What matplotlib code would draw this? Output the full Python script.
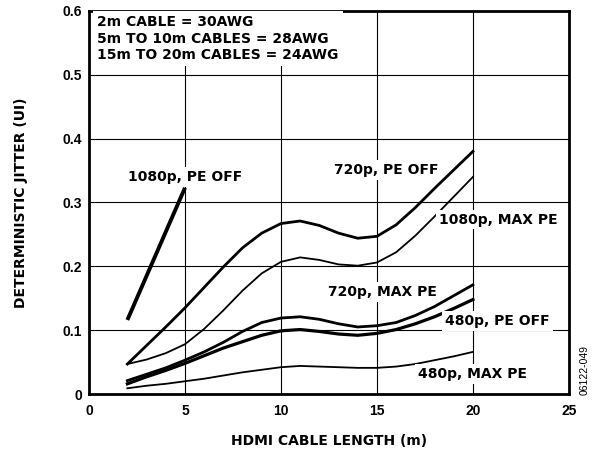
import matplotlib
matplotlib.use("Agg")
import matplotlib.pyplot as plt

plt.rcParams['font.family'] = ['DejaVu Sans']

# cable length (m)
length = [2, 3, 4, 5, 6, 7, 8, 9, 10, 11, 12, 13, 14, 15, 16, 17, 18, 19, 20]

p1080_off_x = [2, 5]
p1080_off = [0.116, 0.323]

p720_off = [0.047, 0.076, 0.105, 0.135, 0.167, 0.199, 0.229, 0.252, 0.267, 0.271,
            0.264, 0.252, 0.244, 0.247, 0.265, 0.292, 0.322, 0.351, 0.380]
p1080_max = [0.047, 0.054, 0.064, 0.078, 0.102, 0.131, 0.162, 0.189, 0.207, 0.214,
             0.210, 0.203, 0.201, 0.206, 0.222, 0.248, 0.278, 0.309, 0.340]
p720_max = [0.021, 0.031, 0.041, 0.053, 0.066, 0.081, 0.098, 0.112, 0.119, 0.121,
            0.117, 0.110, 0.105, 0.107, 0.112, 0.123, 0.137, 0.154, 0.171]
p480_off = [0.016, 0.027, 0.037, 0.048, 0.060, 0.072, 0.082, 0.092, 0.099, 0.101,
            0.098, 0.094, 0.092, 0.095, 0.101, 0.110, 0.121, 0.134, 0.148]
p480_max = [0.009, 0.013, 0.016, 0.020, 0.024, 0.029, 0.034, 0.038, 0.042, 0.044,
            0.043, 0.042, 0.041, 0.041, 0.043, 0.047, 0.053, 0.059, 0.066]

xticks = [0, 5, 10, 15, 20, 25]
yticks = [0, 0.1, 0.2, 0.3, 0.4, 0.5, 0.6]
ytick_labels = ['0', '0.1', '0.2', '0.3', '0.4', '0.5', '0.6']

fig = plt.figure(figsize=(5.92, 4.55), dpi=100)
ax = fig.add_axes([0.1503, 0.134, 0.8107, 0.842])

ax.plot(p1080_off_x, p1080_off, color='black', lw=2.8, solid_capstyle='butt')
ax.plot(length, p720_off, color='black', lw=2.0)
ax.plot(length, p1080_max, color='black', lw=1.3)
ax.plot(length, p720_max, color='black', lw=2.0)
ax.plot(length, p480_off, color='black', lw=2.3)
ax.plot(length, p480_max, color='black', lw=1.3)

ax.set_xlim(0, 25)
ax.set_ylim(0, 0.6)
ax.set_xticks(xticks)
ax.set_yticks(yticks)
ax.set_yticklabels(ytick_labels)
ax.tick_params(axis='x', length=0, pad=7)
ax.tick_params(axis='y', length=0, pad=5)
for lab in ax.get_xticklabels() + ax.get_yticklabels():
    lab.set_fontweight('bold')
    lab.set_fontfamily('Liberation Sans')
    lab.set_fontsize(10)
ax.grid(True, color='black', lw=0.8)
ax.set_axisbelow(True)
for s in ax.spines.values():
    s.set_linewidth(2.0)

ax.set_xlabel('HDMI CABLE LENGTH (m)', fontsize=10, fontweight='bold')
ax.set_ylabel('DETERMINISTIC JITTER (UI)', fontsize=10, fontweight='bold')
ax.xaxis.set_label_coords(0.5, -0.104)
ax.yaxis.set_label_coords(-0.127, 0.5)

ax.text(0.42, 0.593, '2m CABLE = 30AWG\n5m TO 10m CABLES = 28AWG\n15m TO 20m CABLES = 24AWG',
        fontsize=10, fontweight='bold', va='top', ha='left', linespacing=1.2,
        bbox=dict(facecolor='white', edgecolor='none', pad=3))

box = dict(facecolor='white', edgecolor='none', pad=2)
labels = [
    ('1080p, PE OFF', 5.0, 0.340),
    ('720p, PE OFF', 15.47, 0.351),
    ('1080p, MAX PE', 21.3, 0.273),
    ('720p, MAX PE', 15.29, 0.160),
    ('480p, PE OFF', 21.28, 0.114),
    ('480p, MAX PE', 19.97, 0.031),
]
for t, x, y in labels:
    ax.text(x, y, t, fontsize=10, fontweight='bold', ha='center', va='center', bbox=box)

fig.text(0.988, 0.187, '06122-049', rotation=90, fontsize=7.5, ha='center', va='center',
         family='Liberation Sans')

fig.savefig('out.png', dpi=100)
